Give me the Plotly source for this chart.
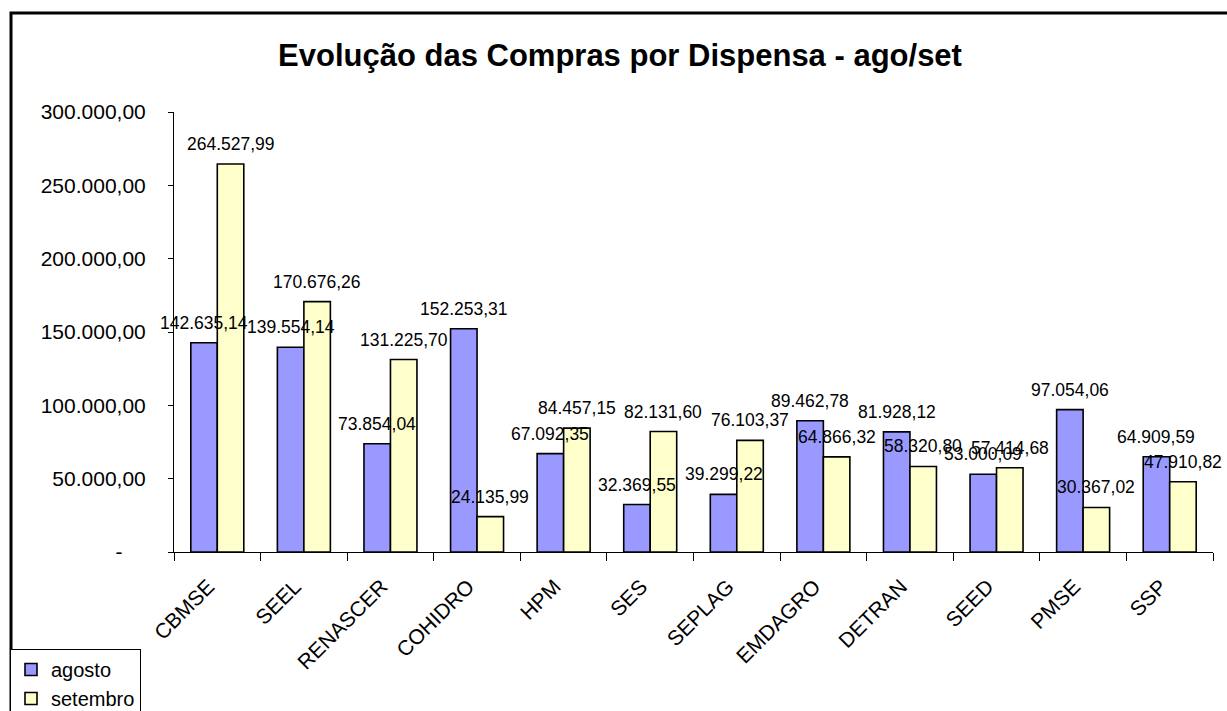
import plotly.graph_objects as go

# ---------------- data ----------------
categorias = ["CBMSE", "SEEL", "RENASCER", "COHIDRO", "HPM", "SES", "SEPLAG",
              "EMDAGRO", "DETRAN", "SEED", "PMSE", "SSP"]
agosto = [142635.14, 139554.14, 73854.04, 152253.31, 67092.35, 32369.55, 39299.22,
          89462.78, 81928.12, 53000.09, 97054.06, 64909.59]
setembro = [264527.99, 170676.26, 131225.70, 24135.99, 84457.15, 82131.60, 76103.37,
            64866.32, 58320.80, 57414.68, 30367.02, 47910.82]
y_tick_vals = [0, 50000, 100000, 150000, 200000, 250000, 300000]
series_names = ["agosto", "setembro"]
title_text = "Evolução das Compras por Dispensa - ago/set"

# ---------------- style ----------------
W, H = 1227, 711
ML, MR, MT, MB = 174, 14, 112, 159
FONT = "Liberation Sans, Arial, sans-serif"
COLORS = ["#9999FF", "#FFFFCC"]
BARGAP = 0.388
LABEL_GAP = 20          # px from bar top to label centre


def br(v):
    s = f"{v:,.2f}"
    return s.replace(",", "X").replace(".", ",").replace("X", ".")


def br_tick(v):
    return "-" + "\u00a0" * 4 if v == 0 else br(v)


fig = go.Figure()
for name, vals, col in zip(series_names, [agosto, setembro], COLORS):
    fig.add_trace(go.Bar(
        name=name, x=categorias, y=vals,
        marker=dict(color=col, line=dict(color="black", width=1.6)),
        hoverinfo="x+y",
    ))

plot_w = W - ML - MR
cat_w = plot_w / len(categorias)
bar_w = cat_w * (1 - BARGAP) / 2
annotations = []
for si, vals in enumerate([agosto, setembro]):
    xs = (-0.5 if si == 0 else 0.5) * bar_w
    for c, v in zip(categorias, vals):
        annotations.append(dict(
            x=c, y=v, xref="x", yref="y", text=br(v), showarrow=False,
            xshift=xs, yshift=LABEL_GAP,
            yanchor="middle", xanchor="center",
            font=dict(family=FONT, size=17.5, color="black"),
        ))

plot_h = H - MT - MB
px2x = lambda px: (px - ML) / plot_w
px2y = lambda py: (H - MB - py) / plot_h

fig.update_layout(
    width=W, height=H,
    margin=dict(l=ML, r=MR, t=MT, b=MB, pad=0, autoexpand=False),
    paper_bgcolor="white", plot_bgcolor="white",
    barmode="group", bargap=BARGAP, bargroupgap=0,
    font=dict(family=FONT, color="black"),
    title=dict(text="<b>" + title_text + "</b>",
               font=dict(family=FONT, size=31, color="black"),
               x=620 / W, xanchor="center", xref="container",
               y=1 - 55 / H, yanchor="middle", yref="container"),
    xaxis=dict(type="category", range=[-0.5, len(categorias) - 0.5],
               showline=True, linecolor="black", linewidth=1,
               ticks="outside", tickson="boundaries", ticklen=8, tickcolor="black",
               tickangle=-45, tickfont=dict(family=FONT, size=21, color="black"),
               showgrid=False, zeroline=False, ticklabelstandoff=13,
               ticklabelshift=-9),
    yaxis=dict(range=[0, 300000], tickvals=y_tick_vals,
               ticktext=[br_tick(v) for v in y_tick_vals],
               showline=True, linecolor="black", linewidth=1,
               ticks="outside", ticklen=5, tickcolor="black",
               tickfont=dict(family=FONT, size=21, color="black"),
               showgrid=False, zeroline=False, ticklabelstandoff=18),
    legend=dict(x=px2x(10), y=px2y(649), xanchor="left", yanchor="top",
                bordercolor="black", borderwidth=1, bgcolor="white",
                font=dict(family=FONT, size=20, color="black"),
                tracegroupgap=0, itemwidth=30,
                entrywidth=112, entrywidthmode="pixels"),
    annotations=annotations,
    shapes=[dict(type="rect", xref="paper", yref="paper",
                 x0=px2x(11), x1=px2x(W + 20), y0=px2y(13), y1=px2y(H + 20),
                 line=dict(color="black", width=3), layer="below")],
    showlegend=True,
)

fig.write_html("out.html", config={"displayModeBar": False},
               post_script="document.body.style.margin='0';document.body.style.overflow='hidden';")
